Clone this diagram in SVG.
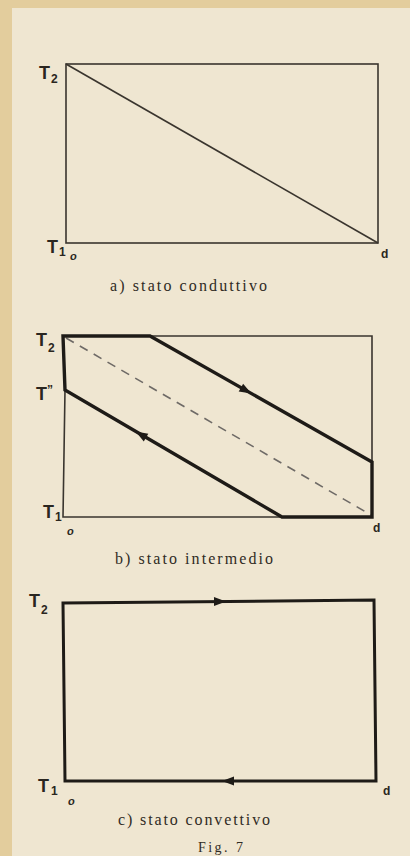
<svg xmlns="http://www.w3.org/2000/svg" width="410" height="856" viewBox="0 0 410 856">
<defs>
<style>
.lbl{font-family:"Liberation Sans",Arial,sans-serif;font-weight:bold;fill:#2a2620}
.big{font-size:18px}
.sub{font-size:12px}
.o{font-family:"Liberation Sans",Arial,sans-serif;font-weight:bold;font-style:italic;font-size:11px;fill:#2a2620}
.cap{font-family:"Liberation Serif","Times New Roman",serif;font-size:16px;fill:#2f2b24}
.thin{fill:none;stroke:#3a352e;stroke-width:1.6}
.thick{fill:none;stroke:#1e1b17;stroke-width:3.4;stroke-linejoin:miter}
.dash{fill:none;stroke:#6e6a66;stroke-width:1.6;stroke-dasharray:9,7}
.ah{fill:#1e1b17}
</style>
<path id="head" d="M-7,-4.5 L5,0 L-7,4.5 Z"/>
</defs>
<rect x="0" y="0" width="410" height="856" fill="#e3cd9d"/>
<rect x="12" y="8" width="398" height="848" fill="#efe6d1"/>

<g id="diagram-a">
<rect class="thin" x="66" y="64" width="312" height="179"/>
<line class="thin" x1="66" y1="64" x2="378" y2="243"/>
<text class="lbl big" x="39" y="79">T</text><text class="lbl sub" x="51" y="83">2</text>
<text class="lbl big" x="47" y="253">T</text><text class="lbl sub" x="59" y="256">1</text>
<text class="o" x="70" y="260">o</text>
<text class="lbl sub" x="381" y="258">d</text>
<text class="cap" x="110" y="291" textLength="157" lengthAdjust="spacing">a) stato conduttivo</text>
</g>

<g id="diagram-b">
<polyline class="thin" points="150,336 372,336 372,462"/>
<polyline class="thin" points="65,390 63,517 282,517"/>
<line class="dash" x1="66" y1="338" x2="371" y2="515"/>
<g id="connectors-b">
<path class="thick" d="M65,390 L63,336 L150,336 L372,462 L372,517 L282,517 Z"/>
<use href="#head" class="ah" transform="translate(247,391) rotate(29.6)"/>
<use href="#head" class="ah" transform="translate(140,434) rotate(210.3)"/>
</g>
<text class="lbl big" x="36" y="346">T</text><text class="lbl sub" x="48" y="352">2</text>
<text class="lbl big" x="36" y="400">T<tspan style="font-size:12px" dy="-6">”</tspan></text>
<text class="lbl big" x="43" y="518">T</text><text class="lbl sub" x="55" y="521">1</text>
<text class="o" x="67" y="535">o</text>
<text class="lbl sub" x="373" y="532">d</text>
<text class="cap" x="115" y="564" textLength="158" lengthAdjust="spacing">b) stato intermedio</text>
</g>

<g id="diagram-c">
<g id="connectors-c">
<path class="thick" d="M63,603 L374,600 L376,781 L65,781 Z" style="stroke-width:3"/>
<use href="#head" class="ah" transform="translate(221,601.5) rotate(-0.5)"/>
<use href="#head" class="ah" transform="translate(227,781) rotate(180)"/>
</g>
<text class="lbl big" x="29" y="607">T</text><text class="lbl sub" x="41" y="614">2</text>
<text class="lbl big" x="38" y="792">T</text><text class="lbl sub" x="51" y="795">1</text>
<text class="o" x="68" y="805">o</text>
<text class="lbl sub" x="383" y="795">d</text>
<text class="cap" x="118" y="825" textLength="152" lengthAdjust="spacing">c) stato convettivo</text>
<text class="cap" x="198" y="852" textLength="45" lengthAdjust="spacing" style="font-size:14px">Fig. 7</text>
</g>
</svg>
